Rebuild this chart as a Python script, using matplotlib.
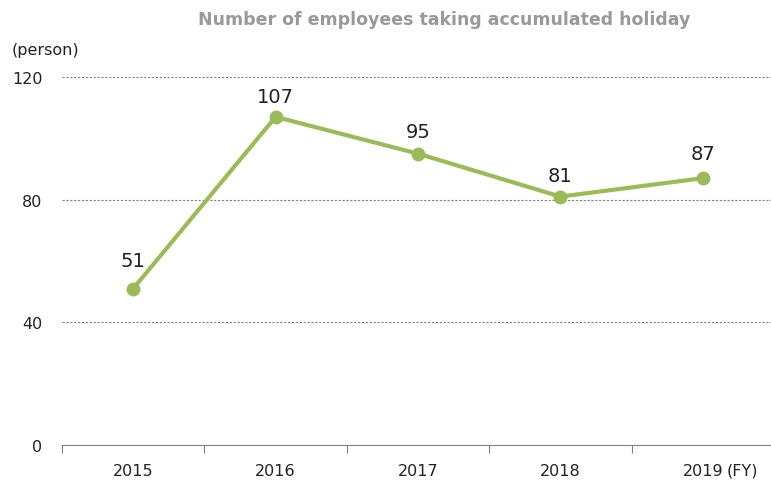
import numpy as np
import matplotlib.pyplot as plt

years = ["2015", "2016", "2017", "2018", "2019"]
employees = [51, 107, 95, 81, 87]
y_ticks = [0, 40, 80, 120]

# how far each value label sits above its point (pixels)
label_gap = [28, 20, 22, 21, 25]

green = "#9bbb59"
grey = "#808080"
text_col = "#222222"

fig = plt.figure(figsize=(7.71, 4.85), dpi=100)
ax = fig.add_axes([62 / 771, 39 / 485, 712 / 771, 368 / 485])

x = np.arange(len(years))
ax.plot(x, employees, color=green, lw=3, marker="o", ms=9, zorder=3, clip_on=False)
for xi, v, g in zip(x, employees, label_gap):
    ax.annotate(str(v), (xi, v), xytext=(0, g * 0.72), textcoords="offset points",
                ha="center", va="center", fontsize=14, color=text_col)

ax.set_xlim(-0.5, len(years) - 0.5)
ax.set_ylim(0, 120)
ax.set_yticks(y_ticks)
ax.set_yticklabels([str(t) for t in y_ticks], fontsize=11.5, color=text_col)
for t in y_ticks[1:]:
    ax.axhline(t, color=grey, lw=0.8, ls=(0, (2, 1.5)), zorder=1)

ax.set_xticks(x)
ax.set_xticklabels(years, fontsize=11.5, color=text_col)
ax.set_xticks(np.arange(-0.5, len(years)), minor=True)
ax.tick_params(axis="x", which="major", length=0, pad=13)
ax.tick_params(axis="x", which="minor", length=6, color=grey, width=0.8)
ax.tick_params(axis="y", length=0, pad=14)

# "(FY)" unit after the last year
ax.annotate("(FY)", (x[-1], 0), xycoords=ax.get_xaxis_transform(),
            xytext=(17.5, -12.5), textcoords="offset points",
            ha="left", va="top", fontsize=11.5, color=text_col)

for s in ["top", "right", "left"]:
    ax.spines[s].set_visible(False)
ax.spines["bottom"].set_color(grey)
ax.spines["bottom"].set_linewidth(0.8)

fig.text(12 / 771, 1 - 51 / 485, "(person)", fontsize=11.5, va="center", ha="left", color=text_col)
fig.text(444 / 771, 1 - 20 / 485, "Number of employees taking accumulated holiday",
         fontsize=12.5, fontweight="bold", color="#999999", ha="center", va="center")

fig.savefig("out.png", dpi=100)
